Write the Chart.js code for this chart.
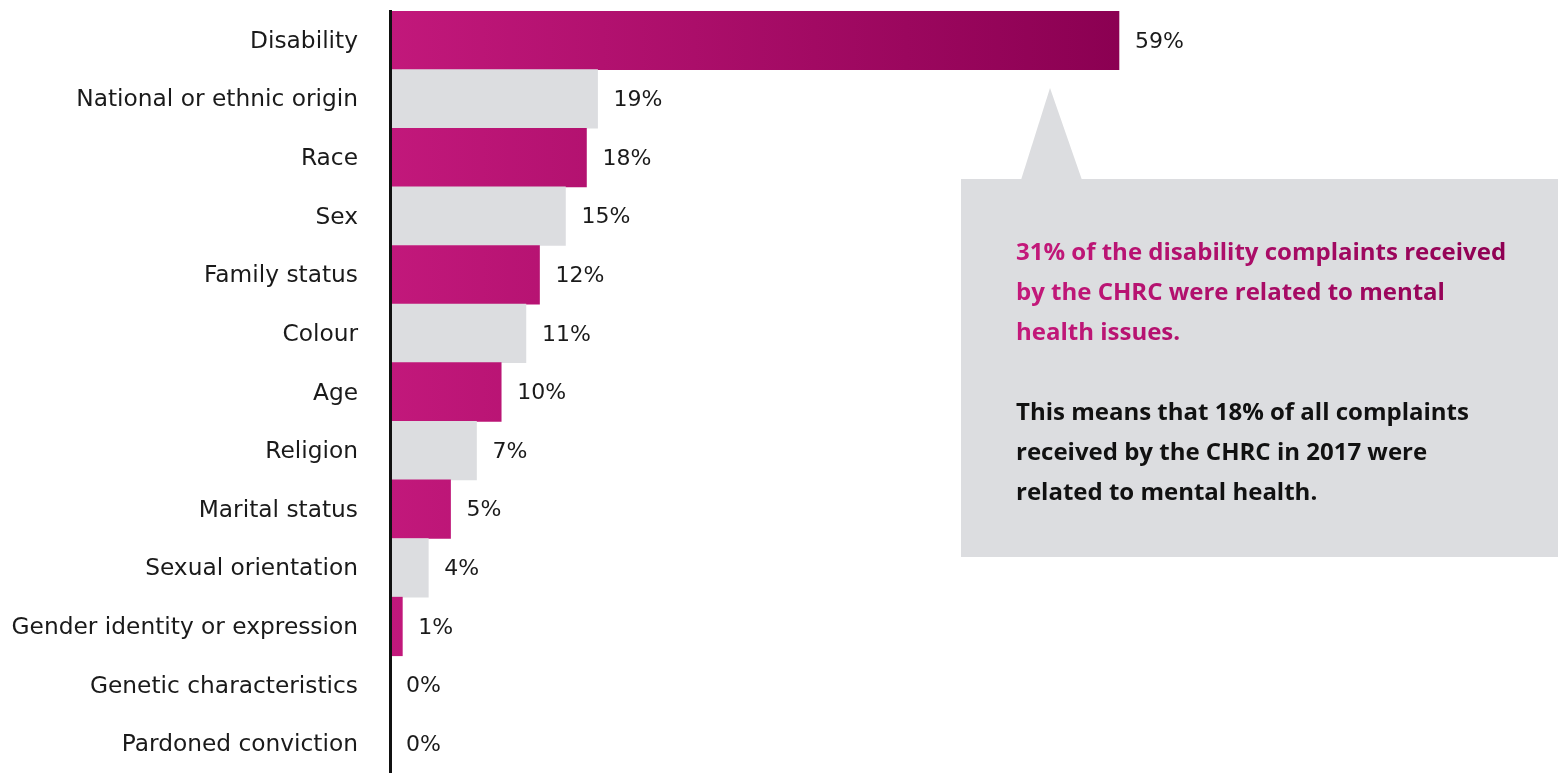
<!DOCTYPE html>
<html><head><meta charset="utf-8">
<script src="https://cdn.jsdelivr.net/npm/chart.js@4/dist/chart.umd.min.js"></script>
<style>html,body{margin:0;padding:0;background:#fff;}#wrap{width:1558px;height:773px;position:relative;}</style>
</head><body><div id="wrap"><canvas id="c" width="1558" height="773"></canvas></div>
<script>
const categories = ["Disability","National or ethnic origin","Race","Sex","Family status","Colour","Age","Religion","Marital status","Sexual orientation","Gender identity or expression","Genetic characteristics","Pardoned conviction"];
// bar lengths (percentage units)
const barValues = [59, 16.8, 15.9, 14.2, 12.1, 11.0, 9.0, 7.0, 4.9, 3.1, 1.0, 0, 0];
// value labels as printed on the picture
const valueLabels = ["59%","19%","18%","15%","12%","11%","10%","7%","5%","4%","1%","0%","0%"];
const calloutPink = ["31% of the disability complaints received","by the CHRC were related to mental","health issues."];
const calloutBlack = ["This means that 18% of all complaints","received by the CHRC in 2017 were","related to mental health."];

const FONT = "'DejaVu Sans', sans-serif";
const BOLD_FONT = "'Open Sans', 'Noto Sans', sans-serif";
const PINK_L = "#c2187b", PINK_R = "#8b0052", GREY = "#dcdde0";

function barColor(ctx){
  const i = ctx.dataIndex;
  if (i % 2 === 1) return GREY;
  const chart = ctx.chart, a = chart.chartArea;
  if (!a) return PINK_L;
  const xs = chart.scales.x;
  const g = chart.ctx.createLinearGradient(a.left, 0, xs.getPixelForValue(Math.max(...barValues)), 0);
  g.addColorStop(0, PINK_L); g.addColorStop(1, PINK_R);
  return g;
}

const labelPlugin = {
  id: 'valueLabels',
  afterDatasetsDraw(chart){
    const ctx = chart.ctx, meta = chart.getDatasetMeta(0);
    ctx.save();
    ctx.font = "22px " + FONT; ctx.fillStyle = "#1a1a1a";
    ctx.textBaseline = "middle"; ctx.textAlign = "left";
    meta.data.forEach((bar, i) => { ctx.fillText(valueLabels[i], bar.x + 16, bar.y + 1.5); });
    ctx.restore();
  }
};

const calloutPlugin = {
  id: 'callout',
  afterDraw(chart){
    const ctx = chart.ctx;
    ctx.save();
    ctx.fillStyle = GREY;
    ctx.fillRect(961, 179, 597, 378);
    ctx.beginPath(); ctx.moveTo(1021, 180); ctx.lineTo(1050, 88); ctx.lineTo(1082, 180); ctx.closePath(); ctx.fill();
    ctx.font = "bold 24px " + BOLD_FONT; ctx.textBaseline = "middle"; ctx.textAlign = "left";
    const g = ctx.createLinearGradient(1017, 0, 1504, 0);
    g.addColorStop(0, "#c4197b"); g.addColorStop(1, "#8f0053");
    ctx.fillStyle = g;
    calloutPink.forEach((t, i) => ctx.fillText(t, 1016, 253 + i * 40));
    ctx.fillStyle = "#111";
    calloutBlack.forEach((t, i) => ctx.fillText(t, 1016, 413 + i * 40));
    ctx.restore();
  }
};

new Chart(document.getElementById('c'), {
  type: 'bar',
  data: { labels: categories, datasets: [{ data: barValues, backgroundColor: barColor, borderWidth: 0, barPercentage: 1, categoryPercentage: 1 }] },
  options: {
    indexAxis: 'y', responsive: false, animation: false,
    layout: { padding: { top: 11, right: 56, bottom: 0, left: 0 } },
    plugins: { legend: { display: false }, tooltip: { enabled: false } },
    scales: {
      x: { display: false, min: 0, max: 90 },
      y: {
        grid: { display: false, drawTicks: false },
        border: { display: true, color: "#111", width: 3, z: 1 },
        ticks: { color: "#1a1a1a", font: { family: FONT, size: 23.3 }, padding: 32, labelOffset: 1.5, autoSkip: false },
        afterFit(s){ s.width = 390; s.paddingTop = 0; s.paddingBottom = 0; }
      }
    }
  },
  plugins: [labelPlugin, calloutPlugin]
});
</script></body></html>
